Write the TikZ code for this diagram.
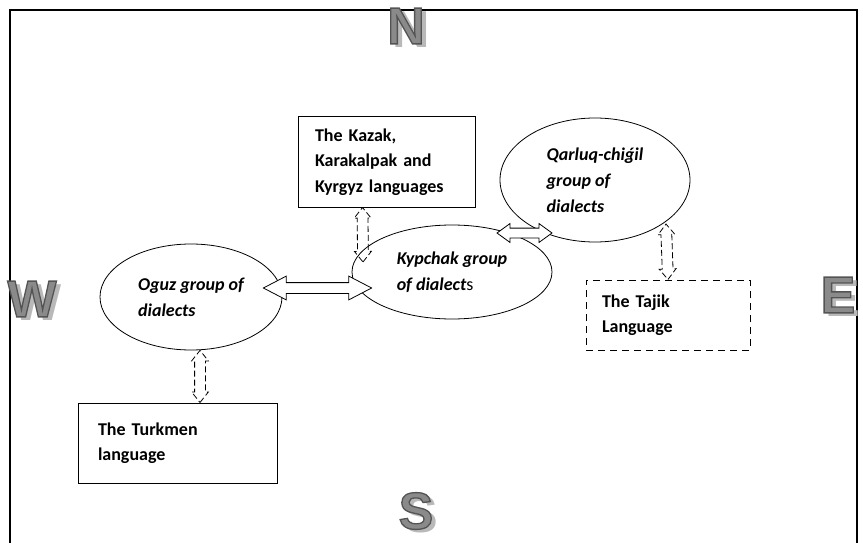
\documentclass[tikz,border=0pt]{standalone}
\usepackage{fontspec}
\setmainfont{Carlito}
\newfontfamily\compassfont{Liberation Sans}
\usetikzlibrary{shapes.geometric, shapes.arrows, calc, positioning}

\definecolor{compfill}{RGB}{138,138,138}
\definecolor{compshade}{RGB}{185,185,185}

% letter with drop shadow and dark rim
\newcommand{\compass}[1]{\rlap{\kern5pt\raisebox{-4pt}{\textcolor{compshade}{#1}}}%
    \special{pdf:literal direct 2 Tr 1.3 w 0.33 0.33 0.33 RG}#1\special{pdf:literal direct 0 Tr}}

\tikzset{
    lang/.style={draw, line width=1pt, rectangle, align=left, inner ysep=0pt,
        font=\fontsize{18}{25.5}\selectfont\bfseries},
    dialect/.style={draw, line width=0.8pt, ellipse, align=left, inner sep=0pt,
        font=\fontsize{18}{26}\selectfont\bfseries\itshape},
    bigarrow/.style={draw, line width=0.8pt, fill=white, double arrow, inner xsep=0pt,
        inner ysep=5pt, minimum width=1pt, double arrow head extend=6.5pt, double arrow tip angle=55},
    smallarrow/.style={draw, line width=0.8pt, fill=white, double arrow, inner xsep=0pt,
        inner ysep=4.5pt, minimum width=1pt, double arrow head extend=4.5pt, double arrow tip angle=72},
    dasharrow/.style={draw, line width=0.8pt, dash pattern=on 6pt off 3pt, double arrow, inner xsep=0pt,
        inner ysep=5pt, minimum width=1pt, double arrow head extend=3pt, double arrow tip angle=77},
    compassmark/.style={font=\compassfont\fontsize{52}{52}\selectfont\bfseries, text=compfill, inner sep=0pt},
}

\begin{document}
\begin{tikzpicture}[x=1pt, y=-1pt]
    \useasboundingbox (0,0) rectangle (863,543);

    % frame
    \draw[line width=1.2pt] (10,543) -- (10,10) -- (857,10) -- (857,543);

    % compass
    \node[compassmark] (north) at (406,28) {\compass{N}};
    \node[compassmark] (west) at (32,301) {\compass{W}};
    \node[compassmark] (east) at (838,297) {\compass{E}};
    \node[compassmark] (south) at (416,513) {\compass{S}};

    % dialect groups
    \node[dialect, minimum width=182pt, minimum height=106pt] (oguz) at (191,297) {Oguz group of\\dialects};
    \node[dialect, minimum width=200pt, minimum height=94pt] (kypchak) at (452,272) {Kypchak group\\of dialect{\mdseries\upshape s}};
    \node[dialect, minimum width=190pt, minimum height=124pt] (qarluq) at (595,180) {Qarluq-chiǵil\\group of\\dialects};

    % languages
    \node[lang, minimum width=177pt, minimum height=90pt, text width=143pt, inner xsep=17pt] (kazak) at (386.5,162) {The Kazak,\\Karakalpak and\\Kyrgyz languages};
    \node[lang, minimum width=199pt, minimum height=80pt, text width=159pt, inner xsep=20pt] (turkmen) at (177.5,443) {The Turkmen\\language};
    \node[lang, dash pattern=on 7pt off 5pt, minimum width=164pt, minimum height=70pt, text width=132pt, inner xsep=16pt] (tajik) at (668,315) {The Tajik\\Language};

    % links
    \path let \p1=($([shift={(20pt,-16pt)}]kypchak.west)-([shift={(-19pt,9pt)}]oguz.east)$), \n1={veclen(\x1,\y1)} in
        ([shift={(-19pt,9pt)}]oguz.east) -- ([shift={(20pt,-16pt)}]kypchak.west)
        node[bigarrow, midway, sloped, minimum height=\n1] {};
    \path let \p1=($([shift={(-43pt,-53pt)}]qarluq.center)-([shift={(45pt,39pt)}]kypchak.center)$), \n1={veclen(\x1,\y1)} in
        ([shift={(45pt,39pt)}]kypchak.center) -- ([shift={(-43pt,-53pt)}]qarluq.center)
        node[smallarrow, midway, sloped, minimum height=\n1] {};
    \path let \p1=($([shift={(-89pt,10pt)}]kypchak.center)-([xshift=65pt]kazak.south west)$), \n1={veclen(\x1,\y1)} in
        ([xshift=65pt]kazak.south west) -- ([shift={(-89pt,10pt)}]kypchak.center)
        node[dasharrow, midway, sloped, minimum height=\n1] {};
    \path let \p1=($([xshift=22.5pt]turkmen.north)-([xshift=9pt]oguz.south)$), \n1={veclen(\x1,\y1)} in
        ([xshift=9pt]oguz.south) -- ([xshift=22.5pt]turkmen.north)
        node[dasharrow, midway, sloped, minimum height=\n1] {};
    \path let \p1=($(tajik.north)-([shift={(71pt,-44pt)}]qarluq.center)$), \n1={veclen(\x1,\y1)} in
        ([shift={(71pt,-44pt)}]qarluq.center) -- (tajik.north)
        node[dasharrow, midway, sloped, minimum height=\n1] {};
\end{tikzpicture}
\end{document}
